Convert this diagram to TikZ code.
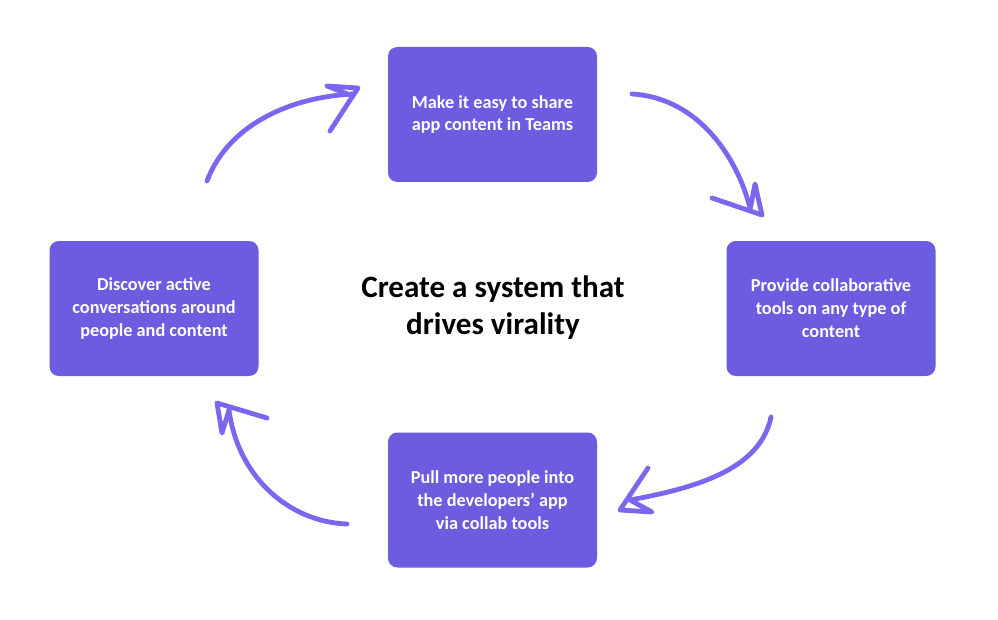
\documentclass[tikz,border=0pt]{standalone}
\usepackage{fontspec}
\setmainfont{Carlito}
\definecolor{boxc}{HTML}{6B5CE0}
\definecolor{arrc}{HTML}{7B66F0}
\begin{document}
\begin{tikzpicture}[x=0.75pt,y=-0.75pt,
  card/.style={fill=boxc, draw=none, rounded corners=7pt, minimum width=156.75pt, minimum height=101.25pt, inner sep=0pt, text=white, font=\bfseries\fontsize{13.7}{17.2}\selectfont, align=center},
  sketch/.style={draw=arrc, line width=3.6pt, line cap=round, line join=round}]
\useasboundingbox (0,0) rectangle (998,620);
\fill[white] (0,0) rectangle (998,620);
\node[card] (top) at (492.5,114.5) {Make it easy to share\\app content in Teams};
\node[card] (right) at (831,308.5) {Provide collaborative\\tools on any type of\\content};
\node[card] (bottom) at (492.5,500) {Pull more people into\\the developers’ app\\via collab tools};
\node[card] (left) at (154,308.5) {Discover active\\conversations around\\people and content};
\node[font=\bfseries\fontsize{23.3}{27.8}\selectfont, align=center] (center) at (493,308) {Create a system that\\drives virality};
% arrow 1: left -> top
\coordinate (a1s) at (207,181);
\coordinate (a1e) at (353,94);
\coordinate (a1t) at (358,88);
\draw[sketch] (a1s) .. controls (228,125) and (290,97) .. (a1e);
\draw[sketch] (330,131) -- (a1t) -- (327,86) -- (350,95);
% arrow 2: top -> right
\coordinate (a2s) at (632,94);
\coordinate (a2e) at (750,208);
\coordinate (a2t) at (762,215);
\draw[sketch] (a2s) .. controls (700,98) and (738,160) .. (a2e);
\draw[sketch] (712,198) -- (a2t) -- (755,184) -- (750,210);
% arrow 3: right -> bottom
\coordinate (a3s) at (771,417);
\coordinate (a3e) at (630,500);
\coordinate (a3t) at (620,510);
\draw[sketch] (a3s) .. controls (760,470) and (695,488) .. (a3e);
\draw[sketch] (648,468) -- (a3t) -- (652,512) -- (630,500);
% arrow 4: bottom -> left
\coordinate (a4s) at (347,524);
\coordinate (a4e) at (229,410);
\coordinate (a4t) at (217,403);
\draw[sketch] (a4s) .. controls (290,522) and (238,478) .. (a4e);
\draw[sketch] (267,418) -- (a4t) -- (222,433) -- (229,410);
\end{tikzpicture}
\end{document}
